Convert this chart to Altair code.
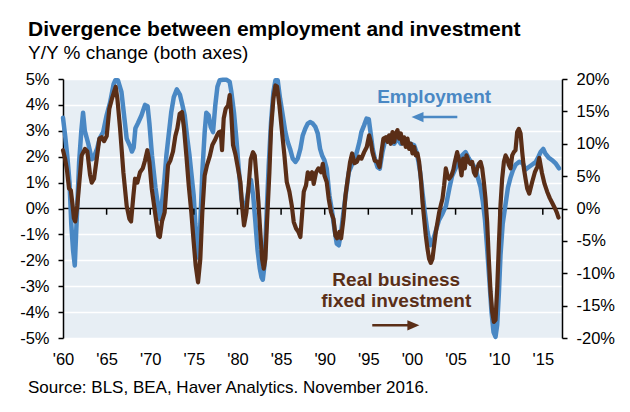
import altair as alt
import pandas as pd

# Payroll employment, year-over-year % change (left axis)
emp_year = [
    1960.0, 1960.25, 1960.5, 1960.75, 1960.95, 1961.15, 1961.35, 1961.6, 1961.85, 1962.1,
    1962.3, 1962.5, 1962.9, 1963.3, 1963.5, 1963.9, 1964.2, 1964.6, 1965.0, 1965.4,
    1965.8, 1966.0, 1966.3, 1966.7, 1967.1, 1967.3, 1967.7, 1967.9, 1968.1, 1968.3,
    1968.6, 1969.0, 1969.4, 1969.7, 1969.9, 1970.2, 1970.6, 1970.9, 1971.1, 1971.3,
    1971.6, 1971.85, 1972.1, 1972.4, 1972.7, 1973.05, 1973.4, 1973.65, 1973.95, 1974.25,
    1974.5, 1974.7, 1974.98, 1975.17, 1975.4, 1975.55, 1975.74, 1975.97, 1976.24, 1976.43,
    1976.7, 1976.93, 1977.2, 1977.46, 1977.7, 1977.96, 1978.34, 1978.73, 1979.1, 1979.3,
    1979.6, 1979.87, 1980.14, 1980.45, 1980.75, 1981.02, 1981.3, 1981.55, 1981.8, 1982.05,
    1982.3, 1982.55, 1982.75, 1982.9, 1983.09, 1983.35, 1983.58, 1983.85, 1984.12, 1984.35,
    1984.61, 1984.88, 1985.19, 1985.49, 1985.76, 1986.03, 1986.33, 1986.64, 1986.91, 1987.21,
    1987.48, 1987.79, 1988.06, 1988.32, 1988.63, 1988.93, 1989.2, 1989.47, 1989.7, 1989.97,
    1990.23, 1990.54, 1990.85, 1991.11, 1991.38, 1991.61, 1991.88, 1992.15, 1992.45, 1992.76,
    1993.0, 1993.4, 1993.7, 1994.0, 1994.2, 1994.5, 1994.8, 1995.05, 1995.3, 1995.5,
    1995.74, 1996.05, 1996.31, 1996.62, 1996.89, 1997.19, 1997.57, 1997.96, 1998.34, 1998.72,
    1999.1, 1999.49, 1999.87, 2000.25, 2000.52, 2000.75, 2000.94, 2001.2, 2001.47, 2001.78,
    2002.09, 2002.35, 2002.7, 2003.1, 2003.5, 2003.9, 2004.3, 2004.6, 2004.99, 2005.37,
    2005.76, 2006.14, 2006.52, 2006.9, 2007.29, 2007.59, 2007.86, 2008.13, 2008.36, 2008.62,
    2008.89, 2009.12, 2009.35, 2009.58, 2009.77, 2009.96, 2010.15, 2010.4, 2010.7, 2011.0,
    2011.3, 2011.6, 2011.9, 2012.3, 2012.7, 2013.0, 2013.4, 2013.8, 2014.2, 2014.5,
    2014.75, 2015.05, 2015.3, 2015.7, 2016.1, 2016.5, 2016.85,
]
emp_pct = [
    3.5, 2.8, 2.0, 1.0, -0.6, -1.6, -2.2, -0.2, 1.8, 3.0,
    3.7, 3.0, 2.5, 1.9, 1.95, 2.3, 2.7, 2.95, 3.6, 4.1,
    4.8, 4.95, 4.95, 4.5, 3.3, 2.7, 2.4, 2.2, 2.35, 3.1,
    3.3, 3.6, 4.0, 3.95, 3.3, 2.05, 0.8, 0.1, -0.4, 0.1,
    1.0, 2.05, 2.8, 3.7, 4.3, 4.6, 4.4, 4.05, 3.6, 2.7,
    2.05, 1.4, 0.5, -0.6, -1.5, -1.9, -0.6, 1.4, 2.95, 3.7,
    3.6, 3.15, 2.95, 4.0, 4.7, 4.95, 4.97, 4.97, 4.9, 4.5,
    3.7, 2.7, 1.55, 0.38, -0.14, 0.25, 0.8, 1.1, 0.5, -0.5,
    -1.6, -2.3, -2.65, -2.75, -2.2, -0.14, 1.67, 3.34, 4.5, 4.95,
    4.95, 4.25, 3.6, 2.95, 2.57, 2.3, 1.93, 1.8, 1.93, 2.3,
    2.82, 3.1, 3.28, 3.34, 3.28, 3.15, 2.9, 2.3, 2.05, 1.86,
    1.54, 0.5, -0.14, -0.78, -1.36, -1.42, -0.9, -0.14, 0.64, 1.4,
    1.6, 1.9, 2.2, 2.6, 2.95, 3.2, 3.47, 3.45, 2.82, 2.3,
    1.93, 1.6, 1.54, 2.18, 2.57, 2.7, 2.57, 2.5, 2.7, 2.5,
    2.55, 2.44, 2.5, 2.44, 2.18, 1.8, 1.4, 0.64, -0.14, -0.9,
    -1.42, -1.3, -0.9, -0.45, -0.2, 0.1, 0.8, 1.25, 1.54, 1.8,
    2.05, 2.18, 1.93, 1.73, 1.54, 1.15, 0.83, 0.25, -0.4, -1.55,
    -2.84, -4.0, -4.77, -4.96, -4.5, -3.3, -1.8, -0.6, 0.1, 0.8,
    1.2, 1.5, 1.7, 1.8, 1.75, 1.5, 1.6, 1.7, 1.8, 2.0,
    2.18, 2.3, 2.12, 1.95, 1.86, 1.73, 1.55,
]

# Real business fixed investment, year-over-year % change (right axis)
inv_year = [
    1960.0, 1960.25, 1960.45, 1960.69, 1960.9, 1961.1, 1961.25, 1961.4, 1961.64, 1961.87,
    1962.14, 1962.52, 1962.79, 1963.1, 1963.29, 1963.56, 1963.86, 1964.17, 1964.43, 1964.7,
    1965.01, 1965.31, 1965.58, 1965.85, 1966.04, 1966.23, 1966.54, 1966.92, 1967.3, 1967.61,
    1967.8, 1968.07, 1968.26, 1968.52, 1968.83, 1969.14, 1969.4, 1969.67, 1969.9, 1970.17,
    1970.55, 1970.93, 1971.1, 1971.35, 1971.65, 1971.85, 1972.04, 1972.3, 1972.61, 1972.88,
    1973.11, 1973.37, 1973.64, 1973.87, 1974.14, 1974.41, 1974.71, 1974.98, 1975.21, 1975.48,
    1975.74, 1975.97, 1976.24, 1976.51, 1976.81, 1977.12, 1977.39, 1977.66, 1977.88, 1978.08,
    1978.23, 1978.42, 1978.65, 1978.92, 1979.11, 1979.3, 1979.49, 1979.76, 1980.06, 1980.33,
    1980.56, 1980.75, 1981.02, 1981.29, 1981.52, 1981.78, 1981.98, 1982.2, 1982.4, 1982.59,
    1982.82, 1983.01, 1983.2, 1983.39, 1983.66, 1983.85, 1984.12, 1984.35, 1984.54, 1984.81,
    1985.07, 1985.38, 1985.65, 1985.95, 1986.22, 1986.45, 1986.72, 1986.98, 1987.21, 1987.4,
    1987.6, 1987.86, 1988.06, 1988.32, 1988.55, 1988.74, 1989.01, 1989.28, 1989.59, 1989.78,
    1989.97, 1990.23, 1990.46, 1990.73, 1991.0, 1991.23, 1991.42, 1991.69, 1991.88, 1992.15,
    1992.38, 1992.64, 1992.91, 1993.14, 1993.41, 1993.68, 1993.94, 1994.21, 1994.52, 1994.82,
    1995.09, 1995.28, 1995.47, 1995.74, 1996.05, 1996.28, 1996.5, 1996.73, 1997.0, 1997.19,
    1997.38, 1997.57, 1997.77, 1997.96, 1998.15, 1998.34, 1998.53, 1998.72, 1998.91, 1999.1,
    1999.29, 1999.49, 1999.68, 1999.87, 2000.06, 2000.25, 2000.44, 2000.63, 2000.82, 2001.02,
    2001.21, 2001.4, 2001.59, 2001.78, 2001.97, 2002.16, 2002.35, 2002.54, 2002.74, 2002.93,
    2003.12, 2003.31, 2003.5, 2003.69, 2003.88, 2004.07, 2004.26, 2004.53, 2004.75, 2004.92,
    2005.18, 2005.45, 2005.68, 2005.87, 2006.06, 2006.25, 2006.52, 2006.71, 2006.9, 2007.1,
    2007.29, 2007.48, 2007.67, 2007.86, 2008.05, 2008.24, 2008.43, 2008.62, 2008.81, 2009.01,
    2009.2, 2009.39, 2009.58, 2009.77, 2009.96, 2010.15, 2010.34, 2010.54, 2010.73, 2010.92,
    2011.11, 2011.3, 2011.49, 2011.68, 2011.87, 2012.06, 2012.26, 2012.45, 2012.64, 2012.83,
    2013.02, 2013.21, 2013.45, 2013.78, 2014.09, 2014.36, 2014.6, 2014.9, 2015.2, 2015.5,
    2015.8, 2016.1, 2016.4, 2016.6, 2016.8,
]
inv_pct = [
    9.0, 7.6, 6.0, 3.1, 2.8, 0.5, -1.5, -2.0, 0.4, 4.0,
    8.2, 9.2, 8.8, 5.2, 4.0, 4.6, 7.6, 10.8, 11.0, 10.4,
    11.2, 15.4, 16.8, 18.0, 18.8, 17.0, 12.4, 5.6, 0.4, -1.6,
    -2.0, 2.0, 4.6, 4.0, 5.6, 6.2, 7.4, 9.0, 7.2, 3.1,
    -0.6, -4.2, -4.4, -2.0, -0.6, 3.1, 6.7, 7.4, 8.8, 11.2,
    12.4, 14.6, 14.9, 12.4, 8.2, 3.6, -0.6, -5.2, -8.8, -11.4,
    -7.8, -0.6, 5.1, 6.7, 8.0, 9.8, 10.5, 11.3, 11.8, 11.9,
    9.0, 13.9, 15.4, 15.9, 17.5, 14.4, 9.8, 8.4, 6.2, 4.1,
    0.0, -2.6, -0.6, 3.6, 7.6, 8.7, 8.2, 4.6, 1.0, -3.1,
    -7.8, -9.3, -7.8, -2.0, 5.6, 12.3, 17.0, 19.0, 18.8, 15.9,
    12.3, 8.2, 4.1, 2.6, 0.5, -2.1, -3.1, -3.6, -4.4, -1.0,
    2.6, 3.6, 5.6, 4.6, 5.6, 3.8, 5.6, 6.2, 5.6, 6.9,
    5.1, 4.1, 1.5, -0.6, -1.6, -4.2, -4.6, -3.6, -4.6, -1.6,
    2.0, 4.6, 7.2, 8.5, 7.0, 7.2, 8.0, 7.7, 8.7, 9.5,
    11.3, 10.3, 8.7, 7.4, 7.2, 6.4, 8.7, 10.8, 11.0, 10.3,
    11.3, 10.0, 11.8, 10.3, 11.6, 12.1, 10.8, 11.6, 10.0, 11.0,
    9.5, 10.8, 9.2, 10.0, 8.5, 9.5, 8.2, 8.5, 7.2, 4.6,
    1.0, -1.6, -4.2, -6.2, -7.8, -8.4, -7.8, -5.7, -3.6, -2.1,
    -0.6, 0.5, 1.5, 3.6, 6.2, 5.1, 4.6, 5.1, 6.0, 7.2,
    8.7, 7.2, 5.1, 7.7, 6.2, 8.2, 7.2, 6.9, 7.2, 5.6,
    5.1, 6.2, 6.9, 7.2, 6.2, 4.1, 1.5, -2.1, -7.8, -12.9,
    -16.0, -17.5, -17.2, -12.4, -5.7, 0.5, 4.6, 7.2, 8.2, 7.7,
    6.7, 6.2, 8.2, 8.7, 9.0, 11.8, 12.3, 11.6, 8.7, 6.2,
    4.6, 3.1, 2.3, 4.1, 5.6, 6.4, 7.8, 5.5, 3.8, 2.6,
    1.6, 0.8, 0.0, -0.6, -1.4,
]

year_ticks = [1960, 1965, 1970, 1975, 1980, 1985, 1990, 1995, 2000, 2005, 2010, 2015]
left_ticks = [-5, -4, -3, -2, -1, 0, 1, 2, 3, 4, 5]
right_ticks = [-20, -15, -10, -5, 0, 5, 10, 15, 20]

title_text = "Divergence between employment and investment"
subtitle_text = "Y/Y % change (both axes)"
source_text = "Source: BLS, BEA, Haver Analytics. November 2016."

BLUE = "#4a88c4"
BROWN = "#5a2e17"
FONT = "Liberation Sans"

emp_df = pd.DataFrame({"year": emp_year, "pct": emp_pct})
inv_df = pd.DataFrame({"year": inv_year, "pct": inv_pct})
tick_df = pd.DataFrame({"year": year_ticks[1:]})
one = alt.Data(values=[{}])

# Shared scales and axes (every layer on a scale carries the same axis spec)
x_scale = alt.Scale(domain=[1960, 2017.2], nice=False, zero=False)
x_axis = alt.Axis(
    values=year_ticks,
    labelExpr="\"'\" + slice(format(datum.value, 'd'), 2)",
    domain=False, ticks=False, grid=False,
    labelFlush=False, labelOverlap=False,
    labelFont=FONT, labelFontSize=16.5, labelColor="black",
    labelPadding=13, title=None,
)
left_scale = alt.Scale(domain=[-5, 5], nice=False, zero=False)
left_axis = alt.Axis(
    orient="left", values=left_ticks, labelExpr="toString(datum.value) + '%'",
    grid=True, gridColor="white", gridWidth=1.5,
    domainColor="black", domainWidth=1.5,
    tickColor="black", tickSize=5, tickWidth=1.5,
    labelFont=FONT, labelFontSize=16.5, labelColor="black", labelPadding=9,
    title=None,
)
right_scale = alt.Scale(domain=[-20, 20], nice=False, zero=False)
right_axis = alt.Axis(
    orient="right", values=right_ticks, labelExpr="toString(datum.value) + '%'",
    grid=False, domainColor="black", domainWidth=1.5,
    tickColor="black", tickSize=5, tickWidth=1.5,
    labelFont=FONT, labelFontSize=16.5, labelColor="black", labelPadding=9,
    title=None,
)


def xd(v):
    return alt.datum(v, type="quantitative", scale=x_scale, axis=x_axis)


def yd(v):
    return alt.datum(v, type="quantitative", scale=left_scale, axis=left_axis)


# Employment line
emp_line = alt.Chart(emp_df).mark_line(
    color=BLUE, strokeWidth=4.5, strokeJoin="round", strokeCap="round"
).encode(
    x=alt.X("year:Q", scale=x_scale, axis=x_axis),
    y=alt.Y("pct:Q", scale=left_scale, axis=left_axis),
)

# Zero line with small ticks hanging below it
zero_line = alt.Chart(one).mark_rule(color="black", strokeWidth=1.5).encode(y=yd(0))
zero_ticks = alt.Chart(tick_df).mark_rule(color="black", strokeWidth=1.5).encode(
    x=alt.X("year:Q", scale=x_scale, axis=x_axis), y=yd(0), y2=alt.datum(-0.24)
)

# "Employment" label and its arrow
emp_label = alt.Chart(one).mark_text(
    text="Employment", font=FONT, fontSize=19, fontWeight="bold", color=BLUE,
    align="center", baseline="alphabetic",
).encode(x=xd(2002.55), y=yd(4.08))
emp_shaft = alt.Chart(one).mark_rule(color=BLUE, strokeWidth=2.5).encode(
    x=xd(2000.8), x2=alt.datum(2005.2), y=yd(3.53)
)
emp_head = alt.Chart(one).mark_point(
    shape="M0,0L2,-0.85L2,0.85Z", filled=True, opacity=1, color=BLUE, size=144, strokeWidth=0
).encode(x=xd(1999.95), y=yd(3.53))

# "Real business fixed investment" label and its arrow
inv_label = alt.Chart(
    pd.DataFrame({"line": ["Real business", "fixed investment"], "yy": [-2.99, -3.81]})
).mark_text(
    font=FONT, fontSize=19, fontWeight="bold", color=BROWN, align="center", baseline="alphabetic",
).encode(x=xd(1998.2), y=alt.Y("yy:Q", scale=left_scale, axis=left_axis), text="line:N")
inv_shaft = alt.Chart(one).mark_rule(color=BROWN, strokeWidth=2.5).encode(
    x=xd(1995.45), x2=alt.datum(2000.0), y=yd(-4.51)
)
inv_head = alt.Chart(one).mark_point(
    shape="M0,0L-2,-0.85L-2,0.85Z", filled=True, opacity=1, color=BROWN, size=144, strokeWidth=0
).encode(x=xd(2000.85), y=yd(-4.51))

left_layer = alt.layer(
    zero_line, emp_line, zero_ticks, emp_label, emp_shaft, emp_head, inv_label, inv_shaft, inv_head
)

# Investment line on the right axis, drawn over the employment line
inv_line = alt.Chart(inv_df).mark_line(
    color=BROWN, strokeWidth=4.2, strokeJoin="round", strokeCap="round"
).encode(
    x=alt.X("year:Q", scale=x_scale, axis=x_axis),
    y=alt.Y("pct:Q", scale=right_scale, axis=right_axis),
)


# Headline, subtitle and source line placed in pixels around the plot
def caption(text, py, size, weight):
    return alt.Chart(one).mark_text(
        text=text, font=FONT, fontSize=size, fontWeight=weight, color="black",
        align="left", baseline="alphabetic",
    ).encode(x=alt.value(-35), y=alt.value(py))


title_mark = caption(title_text, -43, 21, "bold")
subtitle_mark = caption(subtitle_text, -20, 19, "normal")
source_mark = caption(source_text, 314, 17, "normal")

chart = alt.layer(
    left_layer, inv_line, title_mark, subtitle_mark, source_mark
).resolve_scale(y="independent").properties(
    width=499, height=259,
    autosize=alt.AutoSizeParams(type="none"),
    padding={"left": 63, "top": 79, "right": 68, "bottom": 74},
    background="white",
).configure_view(fill="#e7eef4", stroke=None)

chart.save("out.html", embed_options={"renderer": "svg", "actions": False})
